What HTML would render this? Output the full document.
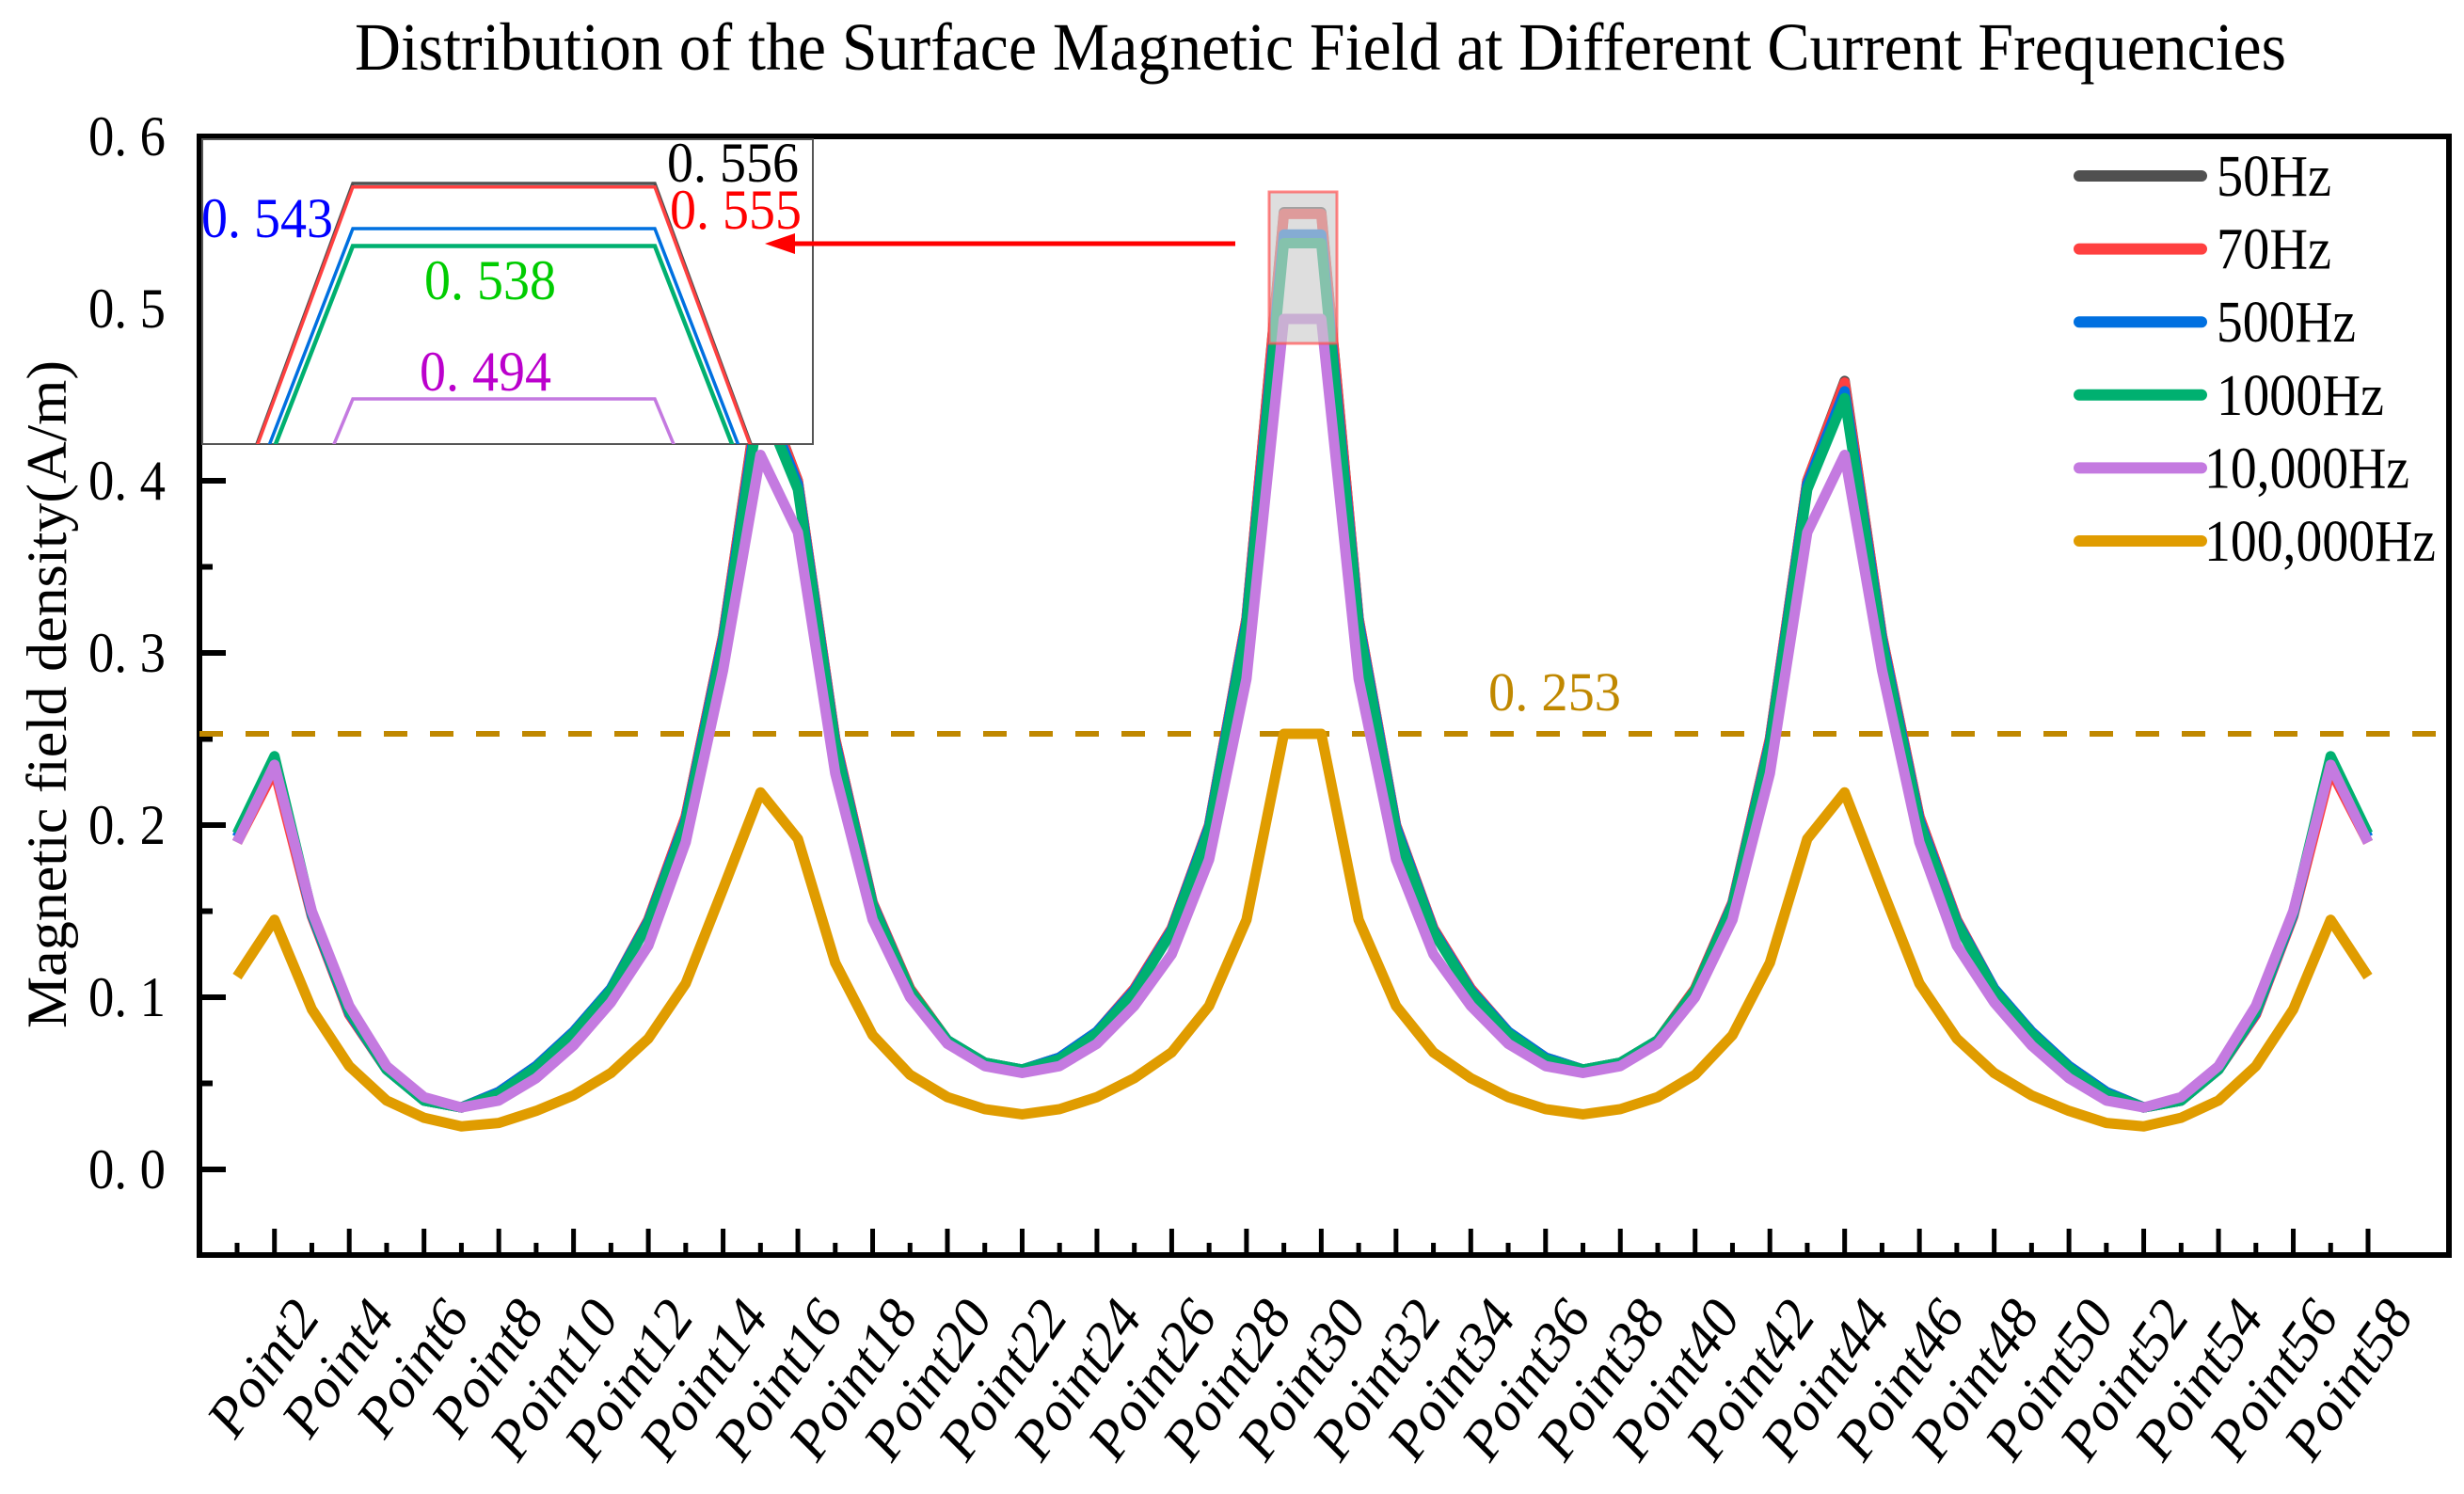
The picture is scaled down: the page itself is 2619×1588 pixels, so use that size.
<!DOCTYPE html>
<html><head><meta charset="utf-8"><style>
html,body{margin:0;padding:0;background:#fff;width:2619px;height:1588px;overflow:hidden;}
svg{display:block;font-family:"Liberation Serif",serif;overflow:hidden;}
</style></head><body>
<svg id="chart" width="2619" height="1588" viewBox="0 0 2619 1588">
<text x="377" y="74" font-size="72" textLength="2053" lengthAdjust="spacingAndGlyphs">Distribution of the Surface Magnetic Field at Different Current Frequencies</text>
<text transform="translate(70,738) rotate(-90)" font-size="60" text-anchor="middle" textLength="710" lengthAdjust="spacingAndGlyphs">Magnetic field density(A/m)</text>
<g id="plot"></g>
</svg>
<script>
const ns="http://www.w3.org/2000/svg";
const svg=document.getElementById('chart');
const plot=document.getElementById('plot');

const seriesNames=["50Hz","70Hz","500Hz","1000Hz","10,000Hz","100,000Hz"];
const seriesColors=["#505050","#ff4040","#0070e0","#00b070","#c47ae0","#e09c00"];
const s50=[0.19,0.235,0.148,0.09,0.058,0.04,0.036,0.045,0.06,0.08,0.105,0.145,0.205,0.31,0.458,0.40,0.25,0.155,0.105,0.075,0.062,0.058,0.065,0.08,0.105,0.14,0.2,0.32,0.556,0.556,0.32,0.2,0.14,0.105,0.08,0.065,0.058,0.062,0.075,0.105,0.155,0.25,0.40,0.458,0.31,0.205,0.145,0.105,0.08,0.06,0.045,0.036,0.04,0.058,0.09,0.148,0.235,0.19];
const s70=[0.19,0.232,0.147,0.09,0.058,0.04,0.036,0.045,0.06,0.08,0.105,0.145,0.205,0.31,0.457,0.40,0.25,0.155,0.105,0.075,0.062,0.058,0.065,0.08,0.105,0.14,0.2,0.32,0.555,0.555,0.32,0.2,0.14,0.105,0.08,0.065,0.058,0.062,0.075,0.105,0.155,0.25,0.40,0.457,0.31,0.205,0.145,0.105,0.08,0.06,0.045,0.036,0.04,0.058,0.09,0.147,0.232,0.19];
const s500=[0.193,0.238,0.148,0.091,0.058,0.04,0.036,0.045,0.06,0.08,0.105,0.144,0.203,0.308,0.452,0.398,0.248,0.154,0.104,0.075,0.062,0.058,0.065,0.08,0.104,0.139,0.199,0.318,0.543,0.543,0.318,0.199,0.139,0.104,0.08,0.065,0.058,0.062,0.075,0.104,0.154,0.248,0.398,0.452,0.308,0.203,0.144,0.105,0.08,0.06,0.045,0.036,0.04,0.058,0.091,0.148,0.238,0.193];
const s1000=[0.195,0.24,0.149,0.092,0.058,0.04,0.036,0.044,0.059,0.079,0.104,0.143,0.201,0.305,0.448,0.395,0.246,0.153,0.104,0.075,0.062,0.058,0.064,0.079,0.103,0.138,0.197,0.315,0.538,0.538,0.315,0.197,0.138,0.103,0.079,0.064,0.058,0.062,0.075,0.104,0.153,0.246,0.395,0.448,0.305,0.201,0.143,0.104,0.079,0.059,0.044,0.036,0.04,0.058,0.092,0.149,0.24,0.195];
const s10000=[0.19,0.235,0.15,0.095,0.06,0.042,0.036,0.04,0.053,0.072,0.097,0.13,0.19,0.29,0.415,0.37,0.23,0.145,0.1,0.073,0.06,0.056,0.06,0.073,0.095,0.125,0.18,0.285,0.494,0.494,0.285,0.18,0.125,0.095,0.073,0.06,0.056,0.06,0.073,0.1,0.145,0.23,0.37,0.415,0.29,0.19,0.13,0.097,0.072,0.053,0.04,0.036,0.042,0.06,0.095,0.15,0.235,0.19];
const s100000=[0.112,0.145,0.093,0.06,0.04,0.03,0.025,0.027,0.034,0.043,0.056,0.076,0.108,0.163,0.219,0.192,0.12,0.078,0.055,0.042,0.035,0.032,0.035,0.042,0.053,0.068,0.095,0.145,0.253,0.253,0.145,0.095,0.068,0.053,0.042,0.035,0.032,0.035,0.042,0.055,0.078,0.12,0.192,0.219,0.163,0.108,0.076,0.056,0.043,0.034,0.027,0.025,0.03,0.04,0.06,0.093,0.145,0.112];
const yTicks=["0. 0","0. 1","0. 2","0. 3","0. 4","0. 5","0. 6"];
const yTickVals=[0,0.1,0.2,0.3,0.4,0.5,0.6];
const refValue=0.253;
const insetLabels=["0. 556","0. 555","0. 543","0. 538","0. 494"];

const allSeries=[s50,s70,s500,s1000,s10000,s100000];
const N=s50.length;
const L=212,R=2603,T=145,B=1334;
const X=i=>252+i*(2517-252)/(N-1);
const Y=v=>1243-v*(1243-145)/0.6;

function el(tag,attrs,parent){const e=document.createElementNS(ns,tag);for(const k in attrs)e.setAttribute(k,attrs[k]);(parent||plot).appendChild(e);return e;}

let f=el('rect',{x:L,y:T,width:R-L,height:B-T,fill:'none',stroke:'#000','stroke-width':6});



for(let k=-1;k<=11;k++){
  const v=k*0.05; const y=Y(v); if(y<T-2||y>B) continue;
  const major=k%2===0;
  const t=el('line',{x1:L,x2:L+(major?28:14),y1:y,y2:y,stroke:'#000','stroke-width':6});
  
  
}
yTicks.forEach((lab,i)=>{
  const t=el('text',{x:94,y:Y(yTickVals[i])+20,'font-size':60,textLength:82,lengthAdjust:'spacingAndGlyphs'});
  t.textContent=lab;
  
  
});
for(let i=0;i<N;i++){
  const x=X(i); const major=(i%2===1);
  const t=el('line',{x1:x,x2:x,y1:B,y2:B-(major?28:13),stroke:'#000','stroke-width':5});
  
  
  if(major){
    const tx=el('text',{transform:`translate(${x+50},1400) rotate(-55)`,'font-size':60,'font-style':'italic','text-anchor':'end'});
    tx.textContent='Point'+(i+1);
    
    
  }
}
let rl=el('line',{x1:L,x2:R,y1:Y(refValue),y2:Y(refValue),stroke:'#c08800','stroke-width':6,'stroke-dasharray':'25 24'});


let rt=el('text',{x:1582,y:755,'font-size':58,fill:'#c08800',textLength:141,lengthAdjust:'spacingAndGlyphs'});
rt.textContent='0. 253';



allSeries.forEach((s,j)=>{
  const p=el('polyline',{points:s.map((v,i)=>X(i)+','+Y(v)).join(' '),fill:'none',stroke:seriesColors[j],'stroke-width':11,'stroke-linejoin':'round'});
  
  
});
let hb=el('rect',{x:1349,y:204,width:72,height:161,fill:'rgba(205,205,205,0.65)',stroke:'rgba(255,80,80,0.7)','stroke-width':3});



const IL=215,IR=864,IT=148,IB=472;
const IX=i=>375+(i-28)*321;
const IY=v=>195+(0.556-v)*3694;
const defs=el('defs',{});
const cp=el('clipPath',{id:'insetClip'},defs);
el('rect',{x:IL,y:IT,width:IR-IL,height:IB-IT},cp);
let ib=el('rect',{x:IL,y:IT,width:IR-IL,height:IB-IT,fill:'#fff',stroke:'#555','stroke-width':2});


const ig=el('g',{'clip-path':'url(#insetClip)'});


allSeries.slice(0,5).forEach((s,j)=>{
  const p=el('polyline',{points:s.map((v,i)=>IX(i)+','+IY(v)).join(' '),fill:'none',stroke:seriesColors[j],'stroke-width':j===3?4.5:3.5},ig);
  
  
});
const insetPos=[[709,193,'#000'],[712,243,'#ff0000'],[214,252,'#0000ff'],[451,318,'#00cc00'],[446,415,'#bb00cc']];
insetLabels.forEach((lab,k)=>{
  const t=el('text',{x:insetPos[k][0],y:insetPos[k][1],'font-size':60,fill:insetPos[k][2],textLength:140,lengthAdjust:'spacingAndGlyphs'});
  t.textContent=lab;
  
  
});

let ar=el('line',{x1:1313,x2:840,y1:259,y2:259,stroke:'#ff0000','stroke-width':5});


let ah=el('polygon',{points:'813,259 845,248 845,270',fill:'#ff0000'});



const legendWidths=[122,122,148,178,218,246];
seriesNames.forEach((n,j)=>{
  const y=187+j*77.6;
  const g=el('g',{});
  
  
  el('line',{x1:2210,x2:2340,y1:y,y2:y,stroke:seriesColors[j],'stroke-width':12,'stroke-linecap':'round'},g);
  const t=el('text',{x:j>=4?2343:2356,y:y+21,'font-size':62,textLength:legendWidths[j],lengthAdjust:'spacingAndGlyphs'},g);
  t.textContent=n;
});
</script>
</body></html>
